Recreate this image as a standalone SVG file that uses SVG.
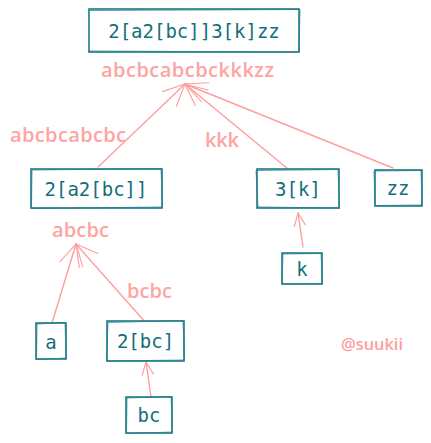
<svg xmlns="http://www.w3.org/2000/svg" width="431" height="443" viewBox="0 0 431 443">
<defs>
<marker id="big" markerUnits="userSpaceOnUse" markerWidth="40" markerHeight="40" refX="0" refY="0" orient="auto" overflow="visible" viewBox="-40 -20 50 40">
<path d="M-27,-12.6 L0,0 L-27,12.6" fill="none" stroke="#ff9e9e" stroke-width="1.4" stroke-linecap="round"/>
</marker>
<marker id="small" markerUnits="userSpaceOnUse" markerWidth="40" markerHeight="40" refX="0" refY="0" orient="auto" overflow="visible" viewBox="-40 -20 50 40">
<path d="M-16,-7 L0,0 L-16,7" fill="none" stroke="#ff9e9e" stroke-width="1.4" stroke-linecap="round"/>
</marker>
</defs>
<style>
.box{fill:#fff;stroke:#1b7a86;stroke-width:1.6}
.box2{fill:none;stroke:#1b7a86;stroke-width:1;opacity:.7}
.t{font-family:"DejaVu Sans Mono","Liberation Mono",monospace;font-size:19px;fill:#136f7b;text-anchor:middle;dominant-baseline:central}
.lbl{font-family:"Open Sans","Liberation Sans",sans-serif;font-weight:600;font-size:20px;fill:#ffa3a3;text-anchor:middle}
.ln{fill:none;stroke:#ff9e9e;stroke-width:1.4;stroke-linecap:round}
</style>
<rect width="431" height="443" fill="#fff"/>
<g id="connectors">
<line class="ln" x1="98" y1="167" x2="185" y2="84" marker-end="url(#big)"/>
<line class="ln" x1="288" y1="169" x2="185" y2="84" marker-end="url(#big)"/>
<line class="ln" x1="393" y1="168" x2="185" y2="84" marker-end="url(#big)"/>
<line class="ln" x1="303" y1="247" x2="298" y2="213" marker-end="url(#small)"/>
<line class="ln" x1="52" y1="323" x2="76" y2="244" marker-end="url(#big)"/>
<line class="ln" x1="146" y1="323" x2="76" y2="244" marker-end="url(#big)"/>
<line class="ln" x1="151" y1="397" x2="146" y2="362" marker-end="url(#small)"/>
</g>
<g id="labels">
<text class="lbl" x="187.5" y="77" textLength="173" lengthAdjust="spacing">abcbcabcbckkkzz</text>
<text class="lbl" x="68" y="142" textLength="116" lengthAdjust="spacing">abcbcabcbc</text>
<text class="lbl" x="222" y="147" textLength="34" lengthAdjust="spacing">kkk</text>
<text class="lbl" x="80.5" y="237" textLength="57" lengthAdjust="spacing">abcbc</text>
<text class="lbl" x="149.5" y="298" textLength="45" lengthAdjust="spacing">bcbc</text>
</g>
<g id="node-root">
<rect class="box" x="89" y="9" width="210" height="43"/>
<path class="box2" d="M90,10.5 L300,9.5 L299,52 L88,51"/>
<text class="t" x="194" y="31">2[a2[bc]]3[k]zz</text>
</g>
<g id="node-left">
<rect class="box" x="31" y="169" width="131" height="39"/>
<path class="box2" d="M32,170 L161,168.5 L162.5,207 L31.5,208.5 Z"/>
<text class="t" x="96" y="189">2[a2[bc]]</text>
</g>
<g id="node-3k">
<rect class="box" x="257" y="169" width="82" height="39"/>
<path class="box2" d="M256,170.5 L338,169.5 L339.5,208 L258,207 Z"/>
<text class="t" x="298" y="189">3[k]</text>
</g>
<g id="node-zz">
<rect class="box" x="375" y="170" width="47" height="36"/>
<path class="box2" d="M374,171 L421,170.5 L422,205 L375,205.5 Z"/>
<text class="t" x="398" y="188">zz</text>
</g>
<g id="node-k">
<rect class="box" x="282" y="253" width="40" height="31"/>
<path class="box2" d="M283,254 L321,253.5 L322.5,283.5 L282,284 Z"/>
<text class="t" x="302" y="269">k</text>
</g>
<g id="node-a">
<rect class="box" x="36" y="323" width="30" height="36"/>
<path class="box2" d="M37,324 L65,322.5 L66,358 L36.5,359.5 Z"/>
<text class="t" x="51" y="342">a</text>
</g>
<g id="node-2bc">
<rect class="box" x="107" y="321" width="77" height="40"/>
<path class="box2" d="M108,322.5 L183,320.5 L184.5,360 L106.5,361 Z"/>
<text class="t" x="145.5" y="341">2[bc]</text>
</g>
<g id="node-bc">
<rect class="box" x="126" y="397" width="46" height="36"/>
<path class="box2" d="M127,398 L171,396.5 L172.5,432 L126.5,433.5 Z"/>
<text class="t" x="149" y="415">bc</text>
</g>
<text x="372" y="350" font-family="'Open Sans','Liberation Sans',sans-serif" font-weight="600" font-size="17" fill="#ff9e9e" text-anchor="middle" textLength="62" lengthAdjust="spacingAndGlyphs">@suukii</text>
</svg>
